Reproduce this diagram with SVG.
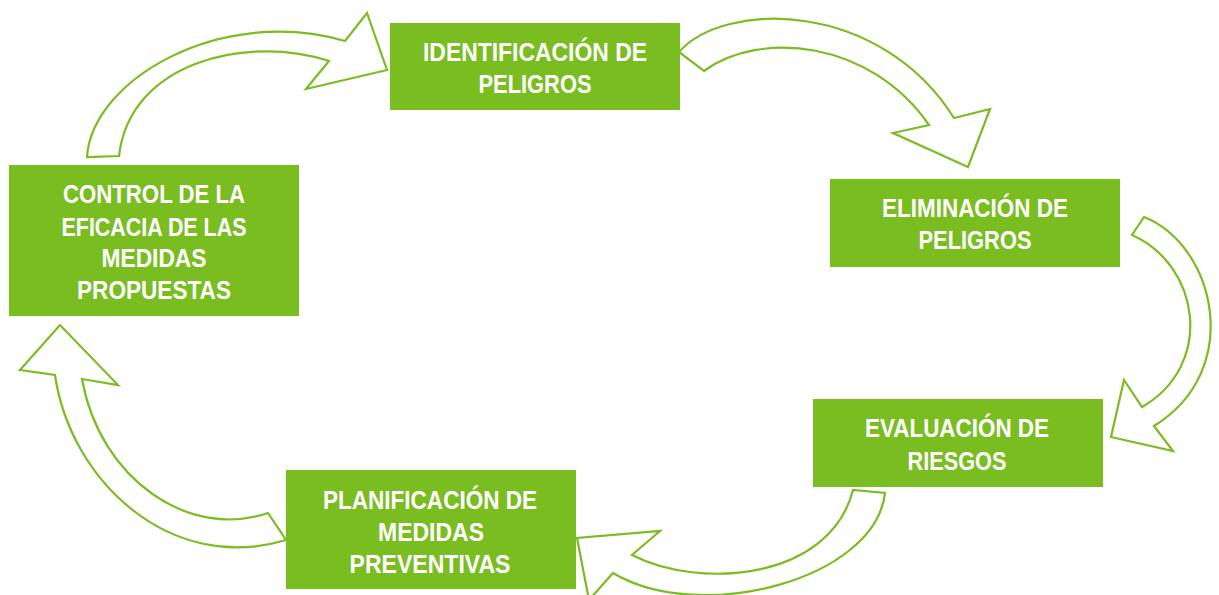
<svg xmlns="http://www.w3.org/2000/svg" width="1219" height="595" viewBox="0 0 1219 595">
<style>
.box{fill:#7abd21}
.arrow{fill:#ffffff;stroke:#7abd21;stroke-width:2.2;stroke-linejoin:miter}
.t{font-family:"Liberation Sans",Arial,sans-serif;font-weight:bold;font-size:25px;fill:#ffffff;text-anchor:middle}
</style>
<rect width="1219" height="595" fill="#ffffff"/>
<g id="connectors">
<path class="arrow" d="M 87,157 C 92,80 220,5 345,41 L 367,13 L 387,70 L 306,89 L 329,61 C 250,35 130,60 119,156 Z"/>
<path class="arrow" d="M 679,52 C 725,0 880,0 954,118 L 990,109 L 968,167 L 893,133 L 929,125 C 870,40 760,30 704,71 Z"/>
<path class="arrow" d="M 1144,217 C 1215,245 1245,370 1154,426 L 1173,451 L 1111,437 L 1124,380 L 1142,407 C 1215,365 1200,265 1132,235 Z"/>
<path class="arrow" d="M 885,493 C 875,580 700,625 613,573 L 589,600 L 577,538 L 660,531 L 632,555 C 700,590 830,580 853,490 Z"/>
<path class="arrow" d="M 286,540 C 170,575 70,480 55,375 L 20,370 L 60,325 L 118,385 L 82,379 C 100,480 190,540 268,513 Z"/>
</g>
<g id="identificacion">
<rect class="box" x="390" y="23" width="290" height="87"/>
<text class="t" x="535" y="61" textLength="224" lengthAdjust="spacingAndGlyphs">IDENTIFICACIÓN DE</text>
<text class="t" x="535" y="93" textLength="113" lengthAdjust="spacingAndGlyphs">PELIGROS</text>
</g>
<g id="eliminacion">
<rect class="box" x="830" y="179" width="290" height="88"/>
<text class="t" x="975" y="217" textLength="186" lengthAdjust="spacingAndGlyphs">ELIMINACIÓN DE</text>
<text class="t" x="975" y="249" textLength="113" lengthAdjust="spacingAndGlyphs">PELIGROS</text>
</g>
<g id="evaluacion">
<rect class="box" x="813" y="399" width="290" height="88"/>
<text class="t" x="957" y="437" textLength="184" lengthAdjust="spacingAndGlyphs">EVALUACIÓN DE</text>
<text class="t" x="957" y="470" textLength="99" lengthAdjust="spacingAndGlyphs">RIESGOS</text>
</g>
<g id="planificacion">
<rect class="box" x="286" y="470" width="290" height="119"/>
<text class="t" x="430" y="509" textLength="214" lengthAdjust="spacingAndGlyphs">PLANIFICACIÓN DE</text>
<text class="t" x="431" y="541" textLength="106" lengthAdjust="spacingAndGlyphs">MEDIDAS</text>
<text class="t" x="430" y="573" textLength="161" lengthAdjust="spacingAndGlyphs">PREVENTIVAS</text>
</g>
<g id="control">
<rect class="box" x="9" y="165" width="290" height="151"/>
<text class="t" x="154" y="203" textLength="182" lengthAdjust="spacingAndGlyphs">CONTROL DE LA</text>
<text class="t" x="154" y="236" textLength="185" lengthAdjust="spacingAndGlyphs">EFICACIA DE LAS</text>
<text class="t" x="154" y="267" textLength="105" lengthAdjust="spacingAndGlyphs">MEDIDAS</text>
<text class="t" x="154" y="299" textLength="154" lengthAdjust="spacingAndGlyphs">PROPUESTAS</text>
</g>
</svg>
